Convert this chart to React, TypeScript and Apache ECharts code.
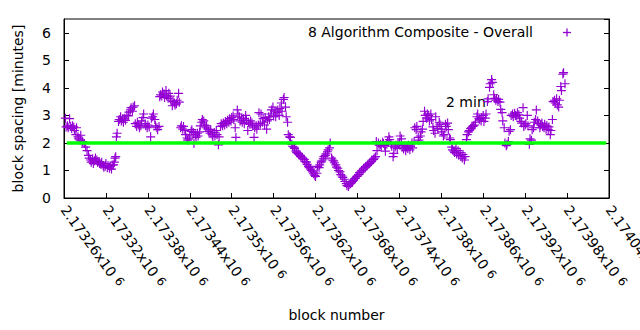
import React, { useEffect, useRef } from "react";
import * as echarts from "echarts";

const FONT = "DejaVu Sans";
const PURPLE = "#9400d3";
const GREEN = "#00ff00";

const X_MIN = 2173260;
const X_MAX = 2174040;
const X_STEP = 60;
const Y_TICKS = [0, 1, 2, 3, 4, 5, 6];

const seriesTitle = "8 Algorithm Composite - Overall";
const targetLabel = "2 min";
const targetLine: [number, number][] = [[2173264, 2], [2174036, 2]];

const segmentA: [number, number][] = [
  [2173262, 2.90], [2173263, 2.58], [2173265, 2.62], [2173266, 2.55], [2173268, 2.88], [2173269, 2.60],
  [2173271, 2.52], [2173272, 2.62], [2173274, 2.58], [2173275, 2.45], [2173277, 2.30], [2173278, 2.55],
  [2173280, 2.22], [2173281, 2.15], [2173283, 2.10], [2173284, 2.28], [2173286, 2.05], [2173287, 2.02],
  [2173289, 1.98], [2173291, 1.85], [2173293, 1.72], [2173295, 1.55], [2173296, 1.45], [2173298, 1.38],
  [2173299, 1.30], [2173301, 1.42], [2173302, 1.25], [2173304, 1.35], [2173305, 1.45], [2173307, 1.38],
  [2173308, 1.30], [2173310, 1.32], [2173311, 1.25], [2173313, 1.22], [2173314, 1.30], [2173316, 1.18],
  [2173317, 1.12], [2173319, 1.15], [2173320, 1.25], [2173322, 1.10], [2173323, 1.18], [2173325, 1.08],
  [2173326, 1.15], [2173328, 1.05], [2173329, 1.20], [2173331, 1.20], [2173332, 1.30], [2173333, 1.45],
  [2173334, 1.50], [2173335, 2.22], [2173336, 2.35],
];

const segmentB: [number, number][] = [
  [2173338, 2.78], [2173339, 2.85], [2173341, 2.95], [2173342, 2.80], [2173344, 2.88], [2173345, 2.75],
  [2173347, 2.90], [2173348, 2.82], [2173350, 3.00], [2173352, 2.98], [2173353, 3.12], [2173355, 3.20],
  [2173356, 3.28], [2173358, 3.15], [2173359, 3.30], [2173361, 3.35], [2173362, 2.70], [2173364, 2.60],
  [2173365, 2.75], [2173367, 2.65], [2173368, 2.55], [2173370, 2.62], [2173371, 2.80], [2173373, 2.92],
  [2173374, 3.05], [2173376, 2.70], [2173377, 2.62], [2173379, 2.55], [2173380, 2.65], [2173382, 2.58],
  [2173384, 2.22], [2173385, 2.90], [2173387, 2.95], [2173388, 3.05], [2173390, 2.85], [2173391, 2.62],
  [2173393, 2.55], [2173394, 2.48], [2173396, 2.60], [2173397, 3.68], [2173398, 3.75], [2173400, 3.70],
  [2173401, 3.85], [2173403, 3.78], [2173404, 3.65], [2173406, 3.90], [2173407, 3.72], [2173409, 3.62],
  [2173410, 3.80], [2173412, 3.70], [2173413, 3.55], [2173415, 3.35], [2173416, 3.50], [2173418, 3.45],
  [2173419, 3.38], [2173421, 3.42], [2173422, 3.55], [2173424, 3.80], [2173425, 3.48], [2173427, 2.55],
  [2173428, 2.62], [2173430, 2.50], [2173431, 2.60], [2173433, 2.45], [2173434, 2.30], [2173436, 2.18],
  [2173437, 2.10], [2173439, 2.15], [2173440, 2.25], [2173442, 2.42], [2173443, 2.48], [2173445, 2.38],
  [2173446, 1.98], [2173448, 2.30], [2173449, 2.20], [2173451, 2.35], [2173452, 2.25], [2173454, 2.40],
  [2173455, 2.62], [2173457, 2.75], [2173458, 2.85], [2173460, 2.80], [2173461, 2.65],
];

const segmentC: [number, number][] = [
  [2173463, 2.55], [2173464, 2.62], [2173466, 2.50], [2173467, 2.42], [2173469, 2.35], [2173470, 2.48],
  [2173472, 2.30], [2173473, 2.22], [2173475, 2.38], [2173476, 2.25], [2173478, 2.45], [2173479, 2.30],
  [2173481, 1.93], [2173482, 2.22], [2173484, 2.60], [2173485, 2.70], [2173487, 2.62], [2173488, 2.72],
  [2173490, 2.65], [2173491, 2.78], [2173493, 2.70], [2173494, 2.82], [2173496, 2.75], [2173497, 2.88],
  [2173499, 2.80], [2173500, 2.92], [2173502, 2.98], [2173503, 2.85], [2173505, 2.55], [2173506, 2.20],
  [2173508, 3.20], [2173509, 3.05], [2173511, 2.95], [2173512, 2.80], [2173514, 2.90], [2173515, 2.75],
  [2173517, 2.88], [2173518, 2.70], [2173520, 3.00], [2173521, 2.82], [2173523, 2.45], [2173524, 2.75],
  [2173526, 2.68], [2173527, 2.80], [2173529, 2.72], [2173530, 2.62], [2173532, 2.20], [2173533, 2.55],
  [2173535, 2.62], [2173536, 2.50], [2173538, 2.65], [2173539, 3.10], [2173541, 2.70], [2173542, 3.05],
  [2173544, 2.75], [2173545, 2.88], [2173547, 2.65], [2173548, 2.92], [2173550, 2.50], [2173551, 2.80],
  [2173553, 2.95], [2173554, 2.85], [2173556, 3.05], [2173557, 3.20], [2173559, 3.30], [2173560, 2.98],
  [2173562, 3.15], [2173563, 2.95], [2173565, 3.10], [2173566, 3.20], [2173568, 3.00], [2173569, 3.25],
  [2173571, 3.45], [2173572, 3.15], [2173574, 3.58], [2173575, 3.65], [2173577, 3.30], [2173578, 2.95],
  [2173580, 2.75], [2173581, 2.30], [2173583, 2.22],
];

const segmentD: [number, number][] = [
  [2173584, 2.20], [2173586, 1.95], [2173587, 1.88], [2173589, 1.85], [2173590, 1.80], [2173592, 1.70],
  [2173593, 1.65], [2173595, 1.62], [2173596, 1.58], [2173598, 1.55], [2173599, 1.50], [2173601, 1.48],
  [2173602, 1.42], [2173604, 1.40], [2173605, 1.32], [2173607, 1.30], [2173608, 1.22], [2173610, 1.15],
  [2173611, 1.10], [2173613, 1.05], [2173614, 1.00], [2173616, 0.95], [2173617, 0.88], [2173619, 0.82],
  [2173620, 0.78], [2173622, 0.90], [2173623, 1.15], [2173625, 1.10], [2173626, 1.20], [2173628, 1.30],
  [2173629, 1.35], [2173631, 1.42], [2173632, 1.50], [2173634, 1.55], [2173635, 1.60], [2173637, 1.68],
  [2173638, 1.75], [2173640, 1.82], [2173641, 2.00], [2173643, 1.45], [2173644, 1.38], [2173646, 1.35],
  [2173647, 1.28], [2173649, 1.20], [2173650, 1.12], [2173652, 1.08], [2173653, 1.00], [2173655, 0.95],
  [2173656, 0.85], [2173658, 0.80], [2173659, 0.75], [2173661, 0.68], [2173662, 0.60], [2173664, 0.52],
  [2173665, 0.45], [2173667, 0.42], [2173668, 0.48], [2173670, 0.52], [2173671, 0.55], [2173673, 0.60],
  [2173674, 0.65], [2173676, 0.70], [2173677, 0.72], [2173679, 0.78], [2173680, 0.80], [2173682, 0.85],
  [2173683, 0.92], [2173685, 0.95], [2173686, 1.00], [2173688, 1.02], [2173689, 1.08], [2173691, 1.10],
  [2173692, 1.15], [2173694, 1.18], [2173695, 1.22], [2173697, 1.25], [2173698, 1.28], [2173700, 1.32],
  [2173701, 1.38], [2173703, 1.40], [2173704, 1.45], [2173706, 1.50], [2173707, 2.05], [2173708, 1.72],
  [2173710, 2.00], [2173711, 1.92], [2173713, 1.95], [2173714, 1.88], [2173716, 2.02], [2173717, 1.98],
  [2173719, 1.90], [2173720, 1.70], [2173722, 1.95], [2173723, 2.05], [2173725, 2.22], [2173726, 2.12],
  [2173728, 1.95], [2173729, 1.88], [2173731, 1.50], [2173732, 1.62], [2173734, 1.85], [2173735, 1.92],
  [2173737, 1.80], [2173738, 1.95], [2173740, 2.00], [2173741, 2.25], [2173743, 2.15], [2173744, 1.85],
  [2173746, 1.78], [2173747, 1.90], [2173749, 1.72], [2173750, 1.85], [2173752, 1.80], [2173753, 1.92],
  [2173755, 1.75], [2173756, 1.88], [2173758, 2.00], [2173759, 1.82], [2173761, 2.02],
];

const segmentE: [number, number][] = [
  [2173762, 2.55], [2173764, 2.48], [2173765, 2.60], [2173767, 2.20], [2173768, 2.10], [2173770, 2.25],
  [2173771, 2.40], [2173773, 2.50], [2173774, 2.78], [2173776, 3.15], [2173777, 3.00], [2173779, 2.90],
  [2173780, 3.05], [2173782, 3.00], [2173783, 2.80], [2173785, 3.05], [2173786, 2.85], [2173788, 2.58],
  [2173789, 2.45], [2173791, 2.35], [2173792, 2.95], [2173794, 2.60], [2173795, 2.52], [2173797, 2.75],
  [2173798, 2.68], [2173800, 2.50], [2173801, 2.40], [2173803, 2.25], [2173804, 2.30], [2173806, 2.68],
  [2173807, 2.60], [2173809, 2.72], [2173810, 2.48], [2173812, 2.18], [2173813, 2.12], [2173815, 1.85],
  [2173816, 1.75], [2173818, 1.70], [2173819, 1.65], [2173821, 1.80], [2173822, 1.60], [2173824, 1.72],
  [2173825, 1.55], [2173827, 1.65], [2173828, 1.52], [2173830, 1.45], [2173831, 1.58], [2173833, 1.38],
  [2173834, 1.50], [2173836, 2.12], [2173837, 2.30], [2173839, 2.40], [2173840, 2.45], [2173842, 2.52],
  [2173843, 2.55], [2173845, 2.60], [2173846, 2.62], [2173848, 2.65], [2173849, 2.75], [2173851, 2.95],
  [2173852, 3.05], [2173854, 2.88], [2173855, 2.85], [2173857, 2.80], [2173858, 2.92], [2173860, 3.00],
  [2173861, 2.78], [2173863, 2.90], [2173864, 3.05], [2173866, 3.50], [2173867, 3.60], [2173869, 4.02],
  [2173870, 4.15], [2173872, 4.30], [2173873, 4.20], [2173875, 3.75], [2173876, 3.62], [2173878, 3.55],
  [2173879, 3.60], [2173881, 3.50], [2173882, 3.58], [2173884, 3.48], [2173885, 3.22], [2173887, 3.10],
  [2173888, 2.80], [2173890, 2.55], [2173891, 2.00], [2173893, 1.90], [2173894, 1.95], [2173896, 2.05],
  [2173897, 2.42], [2173899, 2.48], [2173900, 3.00], [2173902, 3.05], [2173903, 2.95], [2173905, 3.08],
  [2173906, 3.00], [2173908, 2.98], [2173909, 3.10], [2173911, 3.02], [2173912, 2.90], [2173914, 2.78],
  [2173915, 2.72], [2173917, 3.28], [2173918, 2.60], [2173920, 2.65], [2173921, 2.70], [2173923, 3.00],
  [2173924, 2.62], [2173926, 1.95], [2173927, 2.15], [2173929, 2.10], [2173930, 2.48], [2173932, 2.55],
  [2173933, 2.75], [2173935, 2.85], [2173936, 3.20], [2173938, 2.80], [2173939, 2.70], [2173941, 2.55],
  [2173942, 2.65], [2173944, 2.72], [2173945, 2.60], [2173947, 2.55], [2173948, 2.68], [2173950, 2.50],
  [2173951, 2.62], [2173953, 2.48], [2173954, 2.58], [2173956, 2.30], [2173957, 2.45], [2173959, 2.85],
  [2173960, 3.50], [2173962, 3.55], [2173963, 3.45], [2173965, 3.60], [2173966, 3.38], [2173968, 3.30],
  [2173969, 3.55], [2173971, 4.05], [2173972, 3.90], [2173974, 4.50], [2173975, 4.55], [2173977, 4.15],
];

const PLUS = "path://M0,4.35H10V5.65H0Z M4.35,0H5.65V10H4.35Z";

function tickText(v: number): string {
  const s = parseFloat((v / 1e6).toFixed(6)).toString();
  return `${s}x10{sup|6}`;
}

export default function App() {
  const ref = useRef<HTMLDivElement>(null);
  useEffect(() => {
    if (!ref.current) return;
    const chart = echarts.init(ref.current, null, { renderer: "svg" });
    const points = [...segmentA, ...segmentB, ...segmentC, ...segmentD, ...segmentE];
    const axisCommon = {
      type: "value" as const,
      min: 0,
      max: 6.5,
      interval: 1,
      axisLine: { show: true, lineStyle: { color: "#000", width: 1 } },
      axisTick: { show: true, inside: true, length: 5, lineStyle: { color: "#000" } },
      splitLine: { show: false },
    };
    chart.setOption({
      animation: false,
      backgroundColor: "#fff",
      grid: {
        left: 64,
        right: 31,
        top: 19,
        bottom: 132,
        show: true,
        borderColor: "#000",
        borderWidth: 1,
        containLabel: false,
        outerBoundsMode: "none",
      },
      xAxis: {
        type: "value",
        min: X_MIN,
        max: X_MAX,
        interval: X_STEP,
        axisLine: { show: true, lineStyle: { color: "#000", width: 1 } },
        axisTick: { show: true, inside: true, length: 5, lineStyle: { color: "#000" } },
        splitLine: { show: false },
        axisLabel: {
          rotate: -54,
          margin: 9,
          color: "#000",
          fontFamily: FONT,
          fontSize: 14,
          hideOverlap: false,
          formatter: tickText,
          rich: { sup: { fontFamily: FONT, fontSize: 12, color: "#000", verticalAlign: "top", padding: [0, 0, 0, 5] } },
        },
        name: "block number",
        nameLocation: "middle",
        nameGap: 110,
        nameTextStyle: { fontFamily: FONT, fontSize: 14, color: "#000" },
      },
      yAxis: [
        {
          ...axisCommon,
          position: "left",
          axisLabel: {
            color: "#000",
            fontFamily: FONT,
            fontSize: 14,
            margin: 13,
            showMaxLabel: false,
            formatter: (v: number) => (Y_TICKS.includes(v) ? String(v) : ""),
          },
          name: "block spacing [minutes]",
          nameLocation: "middle",
          nameGap: 39,
          nameTextStyle: { fontFamily: FONT, fontSize: 14, color: "#000" },
        },
        {
          ...axisCommon,
          position: "right",
          axisLabel: { show: false },
        },
      ],
      series: [
        {
          type: "scatter",
          name: seriesTitle,
          data: points,
          symbol: PLUS,
          symbolSize: 9,
          itemStyle: { color: PURPLE, opacity: 1 },
          emphasis: { disabled: true },
          silent: true,
        },
        {
          type: "line",
          data: targetLine,
          symbol: "none",
          lineStyle: { color: GREEN, width: 3.5 },
          silent: true,
        },
      ],
      graphic: [
        {
          type: "text",
          x: 533,
          y: 32,
          style: { text: seriesTitle, fontFamily: FONT, fontSize: 14, fill: "#000", align: "right", verticalAlign: "middle" },
        },
        {
          type: "line",
          shape: { x1: 563, y1: 32.5, x2: 571, y2: 32.5 },
          style: { stroke: PURPLE, lineWidth: 1.3 },
        },
        {
          type: "line",
          shape: { x1: 567, y1: 28.5, x2: 567, y2: 36.5 },
          style: { stroke: PURPLE, lineWidth: 1.3 },
        },
        {
          type: "text",
          x: 446,
          y: 102,
          style: { text: targetLabel, fontFamily: FONT, fontSize: 14, fill: "#000", align: "left", verticalAlign: "middle" },
        },
      ],
    });
    return () => chart.dispose();
  }, []);
  return <div ref={ref} style={{ position: "fixed", left: 0, top: 0, width: 640, height: 330 }} />;
}
